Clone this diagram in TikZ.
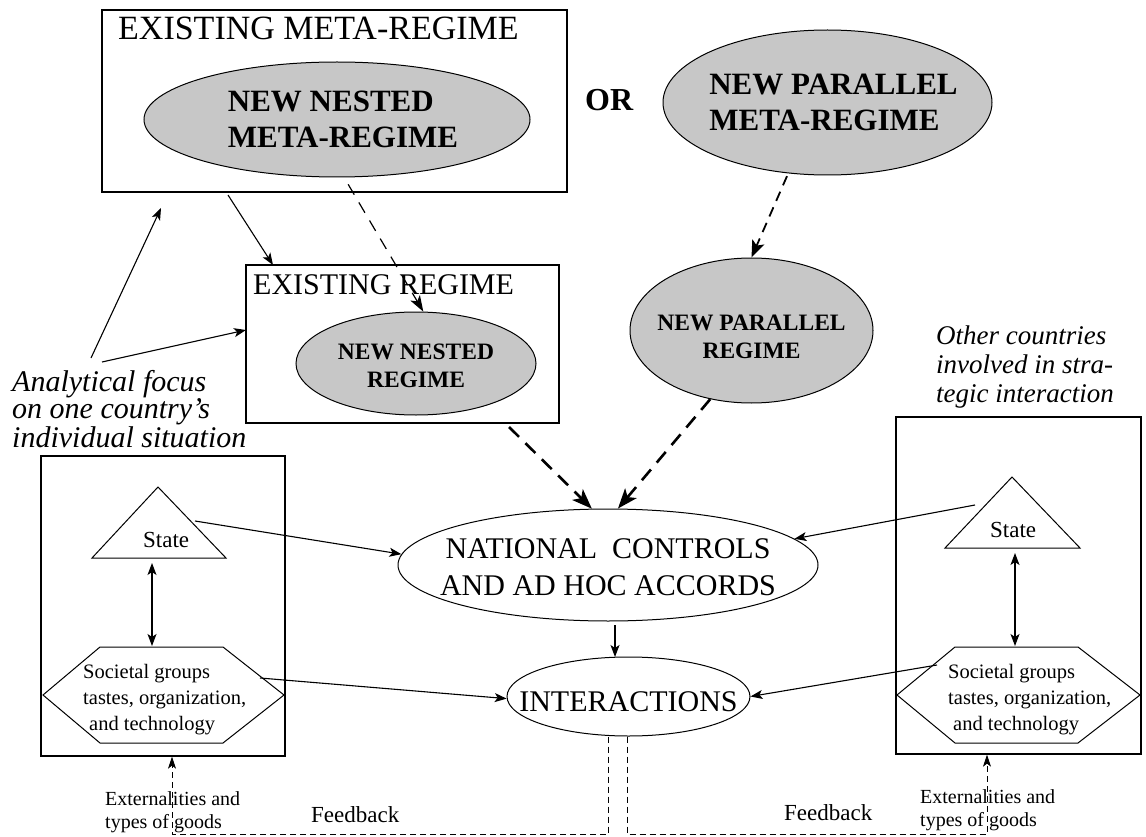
\documentclass[tikz,border=0pt]{standalone}
\usepackage{fontspec}
\setmainfont{Liberation Serif}
\usetikzlibrary{shapes.geometric, arrows.meta}
\tikzset{
    frame/.style={ % Rectangles around regimes and countries
        draw,
        line width=1.3pt,
        inner sep=0pt
    },
    regime/.style={ % Grey ellipses for new (meta-)regimes
        ellipse,
        draw,
        line width=1pt,
        fill=black!22,
        inner sep=0pt
    },
    outcome/.style={ % White ellipses for controls and interactions
        ellipse,
        draw,
        line width=1pt,
        fill=white,
        inner sep=0pt
    },
    txt/.style={inner sep=0pt, align=left},
    bigbold/.style={txt, font=\fontsize{31}{36}\selectfont\bfseries},
    smallbold/.style={inner sep=0pt, align=center, font=\fontsize{23.5}{28}\selectfont\bfseries},
    caps/.style={inner sep=0pt, align=center, font=\fontsize{30}{37}\selectfont},
    note/.style={txt, font=\fontsize{30}{26}\selectfont\itshape},
    link/.style={ % Plain solid connectors
        -{Stealth[length=12pt,width=9pt,inset=3pt]},
        line width=1.1pt
    },
    both/.style={link, {Stealth[length=12pt,width=9pt,inset=3pt]}-{Stealth[length=12pt,width=9pt,inset=3pt]}},
    thindash/.style={-{Stealth[length=16pt,width=11pt,inset=4pt]}, line width=1.2pt, dash pattern=on 12pt off 9pt},
    middash/.style={-{Stealth[length=17pt,width=13pt,inset=4pt]}, line width=1.8pt, dash pattern=on 10pt off 7pt},
    thickdash/.style={-{Stealth[length=20pt,width=15pt,inset=5pt]}, line width=2.6pt, dash pattern=on 14pt off 9pt},
    feedback/.style={-{Stealth[length=12pt,width=8pt,inset=3pt]}, line width=1pt, dash pattern=on 6pt off 4pt}
}

\begin{document}
\begin{tikzpicture}[x=1pt, y=-1pt]
    \useasboundingbox (0,0) rectangle (1146,837);

    % frames
    \node[frame, minimum width=465, minimum height=182] (metabox) at (334.5,101) {};
    \node[frame, minimum width=313, minimum height=158] (exbox) at (402.5,344) {};
    \node[frame, minimum width=244, minimum height=300] (boxL) at (163,606) {};
    \node[frame, minimum width=245, minimum height=337] (boxR) at (1018.5,585.5) {};
    \node[txt, anchor=base west, font=\fontsize{34}{36}\selectfont] (metatitle) at (118,40) {EXISTING META-REGIME};
    \node[txt, anchor=base west, font=\fontsize{30}{32}\selectfont] (extitle) at (253,294) {EXISTING REGIME};

    % regimes
    \node[regime, minimum width=386, minimum height=115] (nmeta) at (337,119.5) {};
    \node[bigbold] (nmetaT) at ([xshift=6pt]nmeta.center) {NEW NESTED\\META-REGIME};
    \node[regime, minimum width=329, minimum height=145] (pmeta) at (827.5,102.5) {};
    \node[bigbold] (pmetaT) at ([xshift=6pt]pmeta.center) {NEW PARALLEL\\META-REGIME};
    \node[txt, anchor=base west, font=\fontsize{32}{34}\selectfont\bfseries] (or) at (585,111) {OR};
    \node[regime, minimum width=240, minimum height=103] (nreg) at (416,363.5) {};
    \node[smallbold] (nregT) at ([yshift=-2pt]nreg.center) {NEW NESTED\\REGIME};
    \node[regime, minimum width=243, minimum height=145] (preg) at (751.5,330.5) {};
    \node[smallbold] (pregT) at ([yshift=-6pt]preg.center) {NEW PARALLEL\\REGIME};

    % outcomes
    \node[outcome, minimum width=420, minimum height=112] (nat) at (608,565) {};
    \node[caps] (natT) at ([yshift=-2pt]nat.center) {NATIONAL~~CONTROLS\\AND AD HOC ACCORDS};
    \node[outcome, minimum width=243, minimum height=79] (inter) at (628.5,696.5) {};
    \node[caps] (interT) at ([yshift=-5pt]inter.center) {INTERACTIONS};

    % states and societal groups
    \draw[line width=1pt] (158,487) -- (226,558) -- (92,558) -- cycle;
    \draw[line width=1pt] (1012,477) -- (1080,548) -- (945,548) -- cycle;
    \draw[line width=1pt] (43,695) -- (100,647) -- (223,647) -- (284,695) -- (223,743) -- (100,743) -- cycle;
    \draw[line width=1pt] (897,695) -- (955,647) -- (1078,647) -- (1140,695) -- (1078,743) -- (955,743) -- cycle;
    \node[txt, anchor=base west, font=\fontsize{23}{25}\selectfont] (stateL) at (143,547) {State};
    \node[txt, anchor=base west, font=\fontsize{23}{25}\selectfont] (stateR) at (990,537) {State};
    \node[txt, anchor=north west, font=\fontsize{20.5}{26}\selectfont] (socL) at (83,664) {Societal groups\\tastes, organization,\\\hspace*{6pt}and technology};
    \node[txt, anchor=north west, font=\fontsize{20.5}{26}\selectfont] (socR) at (948,664) {Societal groups\\tastes, organization,\\\hspace*{5pt}and technology};

    % notes
    \node[note, anchor=north west] (focus) at (12,370) {Analytical focus\\on one country's\\individual situation};
    \node[note, anchor=north west, font=\fontsize{27}{29}\selectfont\itshape] (others) at (936,326) {Other countries\\involved in stra-\\tegic interaction};
    \node[txt, anchor=north west, font=\fontsize{20}{23}\selectfont] (extL) at (105,791) {Externalities and\\types of goods};
    \node[txt, anchor=north west, font=\fontsize{20}{23}\selectfont] (extR) at (920,789) {Externalities and\\types of goods};
    \node[txt, anchor=base west, font=\fontsize{23}{25}\selectfont] (fbL) at (311,822) {Feedback};
    \node[txt, anchor=base west, font=\fontsize{23}{25}\selectfont] (fbR) at (784,820) {Feedback};

    % connector ends
    \coordinate (focusA) at (91,358);
    \coordinate (focusB) at (102,362);
    \coordinate (metaAim) at (161,208);
    \coordinate (exAim) at (246,330);
    \coordinate (metaOut) at (228,195);
    \coordinate (exIn) at (273,265);
    \coordinate (exOut) at (509,427);
    \coordinate (stL) at (195,521);
    \coordinate (stR) at (975,505);
    \coordinate (sgL) at (260,678);
    \coordinate (sgR) at (937,665);
    \coordinate (dblLa) at (152,563);
    \coordinate (dblLb) at (152,646);
    \coordinate (dblRa) at (1015,553);
    \coordinate (dblRb) at (1015,646);
    \coordinate (natOut) at (615,625);
    \coordinate (interIn) at (615,657);
    \coordinate (fbLdown) at (608,834);
    \coordinate (fbRdown) at (627,834);
    \coordinate (fbLcorner) at (172,834);
    \coordinate (fbRcorner) at (987,834);

    % connectors
    \draw[link] (focusA) -- (metaAim);
    \draw[link] (focusB) -- (exAim);
    \draw[link] (metaOut) -- (exIn);
    \draw[thindash, shorten <=8pt] (nmeta.-83) -- (nreg.82);
    \draw[middash, shorten <=3pt] (pmeta.-119) -- (preg.north);
    \draw[thickdash] (exOut) -- (nat.106);
    \draw[thickdash] (preg.-121) -- (nat.80);
    \draw[link] (stL) -- (nat.177);
    \draw[link] (stR) -- (nat.8);
    \draw[link] (sgL) -- (inter.181);
    \draw[link] (sgR) -- (inter.east);
    \draw[both] (dblLa) -- (dblLb);
    \draw[both] (dblRa) -- (dblRb);
    \draw[link] (natOut) -- (interIn);
    \draw[feedback] (inter.south -| fbLdown) -- (fbLdown) -- (fbLcorner) -- (fbLcorner |- boxL.south);
    \draw[feedback] (inter.south -| fbRdown) -- (fbRdown) -- (fbRcorner) -- (fbRcorner |- boxR.south);
\end{tikzpicture}
\end{document}
